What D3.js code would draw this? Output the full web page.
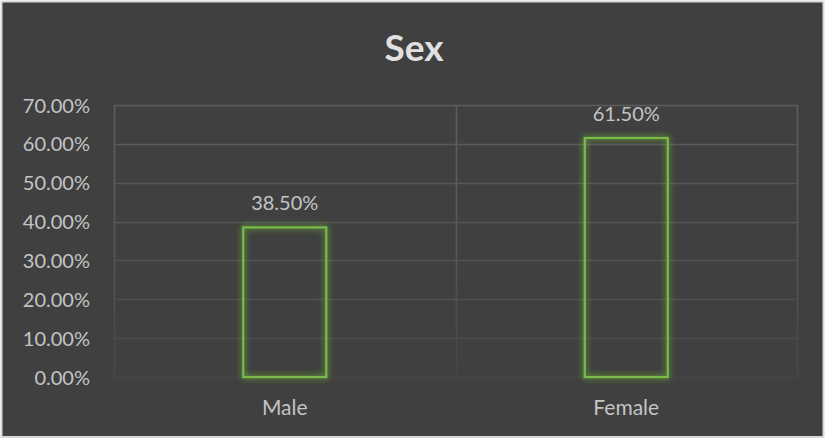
<!DOCTYPE html>
<html>
<head>
<meta charset="utf-8">
<script src="https://cdn.jsdelivr.net/npm/d3@7"></script>
<style>
  html, body { margin: 0; padding: 0; background: #ffffff; }
  svg { display: block; }
</style>
</head>
<body>
<svg id="chart" width="826" height="439"></svg>
<script>
const title = "Sex";
const categories = ["Male", "Female"];
const values = [0.385, 0.615];
const valueLabels = ["38.50%", "61.50%"];
const yTicks = [0, 0.1, 0.2, 0.3, 0.4, 0.5, 0.6, 0.7];
const yTickLabels = ["0.00%", "10.00%", "20.00%", "30.00%", "40.00%", "50.00%", "60.00%", "70.00%"];

const W = 826, H = 439;
const FONT = "Lato, 'Open Sans', sans-serif";
const plot = { left: 114, right: 797, top: 105, bottom: 377 };

const svg = d3.select("#chart");

// chart area background
svg.append("rect")
  .attr("x", 1.5).attr("y", 1.5)
  .attr("width", W - 4).attr("height", H - 3.5)
  .attr("fill", "#404040")
  .attr("stroke", "#d9d9d9").attr("stroke-width", 2);

const defs = svg.append("defs");
const glow = defs.append("filter").attr("id", "glow")
  .attr("x", "-30%").attr("y", "-30%").attr("width", "160%").attr("height", "160%");
glow.append("feGaussianBlur").attr("in", "SourceAlpha").attr("stdDeviation", 3).attr("result", "blur");
glow.append("feFlood").attr("flood-color", "#6aa83f").attr("flood-opacity", 0.75).attr("result", "col");
glow.append("feComposite").attr("in", "col").attr("in2", "blur").attr("operator", "in").attr("result", "g");
const merge = glow.append("feMerge");
merge.append("feMergeNode").attr("in", "g");
merge.append("feMergeNode").attr("in", "g");
merge.append("feMergeNode").attr("in", "SourceGraphic");

const vGrad = defs.append("linearGradient").attr("id", "vgrad")
  .attr("gradientUnits", "userSpaceOnUse")
  .attr("x1", 0).attr("y1", plot.top).attr("x2", 0).attr("y2", plot.bottom);
vGrad.append("stop").attr("offset", "0%").attr("stop-color", "#5e5e5e");
vGrad.append("stop").attr("offset", "55%").attr("stop-color", "#565656");
vGrad.append("stop").attr("offset", "100%").attr("stop-color", "#454545");

const x = d3.scaleBand().domain(categories).range([plot.left, plot.right]).paddingInner(0).paddingOuter(0);
const y = d3.scaleLinear().domain([0, 0.7]).range([plot.bottom, plot.top]);

// horizontal gridlines
const gridColor = d3.scaleLinear().domain([0, 0.3, 0.7]).range(["#474747", "#535353", "#5c5c5c"]);
svg.append("g").selectAll("line").data(yTicks).join("line")
  .attr("x1", plot.left).attr("x2", plot.right)
  .attr("y1", d => Math.round(y(d)) + 0.5).attr("y2", d => Math.round(y(d)) + 0.5)
  .attr("stroke", d => gridColor(d)).attr("stroke-width", 1.6);

// vertical gridlines at category boundaries
const vLines = [plot.left].concat(categories.map(c => x(c) + x.bandwidth()));
svg.append("g").selectAll("line").data(vLines).join("line")
  .attr("x1", d => Math.round(d) + 0.5).attr("x2", d => Math.round(d) + 0.5)
  .attr("y1", plot.top).attr("y2", plot.bottom)
  .attr("stroke", "url(#vgrad)").attr("stroke-width", 1.6);

// y axis labels
const yAxis = d3.axisLeft(y).tickValues(yTicks)
  .tickFormat((d, i) => yTickLabels[i]).tickSize(0).tickPadding(0);
const yg = svg.append("g").attr("transform", `translate(90,0)`).call(yAxis);
yg.select(".domain").remove();
yg.selectAll("text")
  .attr("fill", "#c4c4c4").attr("font-family", FONT).attr("font-size", 20)
  .attr("dy", "0.35em");

// x axis labels
const xAxis = d3.axisBottom(x).tickSize(0).tickPadding(0);
const xg = svg.append("g").attr("transform", `translate(0,${plot.bottom})`).call(xAxis);
xg.select(".domain").remove();
xg.selectAll("text")
  .attr("fill", "#c4c4c4").attr("font-family", FONT).attr("font-size", 21)
  .attr("dy", 0).attr("y", 38);

// bars
const barW = x.bandwidth() * 0.243;
svg.append("g").selectAll("rect").data(values).join("rect")
  .attr("x", (d, i) => x(categories[i]) + x.bandwidth() / 2 - barW / 2)
  .attr("y", d => y(d))
  .attr("width", barW)
  .attr("height", d => y(0) - y(d))
  .attr("fill", "none")
  .attr("stroke", "#78bb4a").attr("stroke-width", 2.2)
  .attr("filter", "url(#glow)");

// data labels
svg.append("g").selectAll("text").data(values).join("text")
  .attr("x", (d, i) => x(categories[i]) + x.bandwidth() / 2)
  .attr("y", d => y(d) - 17.5)
  .attr("text-anchor", "middle")
  .attr("fill", "#c4c4c4").attr("font-family", FONT).attr("font-size", 20)
  .text((d, i) => valueLabels[i]);

// title
svg.append("text")
  .attr("x", 414).attr("y", 61)
  .attr("text-anchor", "middle")
  .attr("fill", "#e0e0e0").attr("font-family", FONT).attr("font-weight", "bold")
  .attr("font-size", 37)
  .text(title);
</script>
</body>
</html>
